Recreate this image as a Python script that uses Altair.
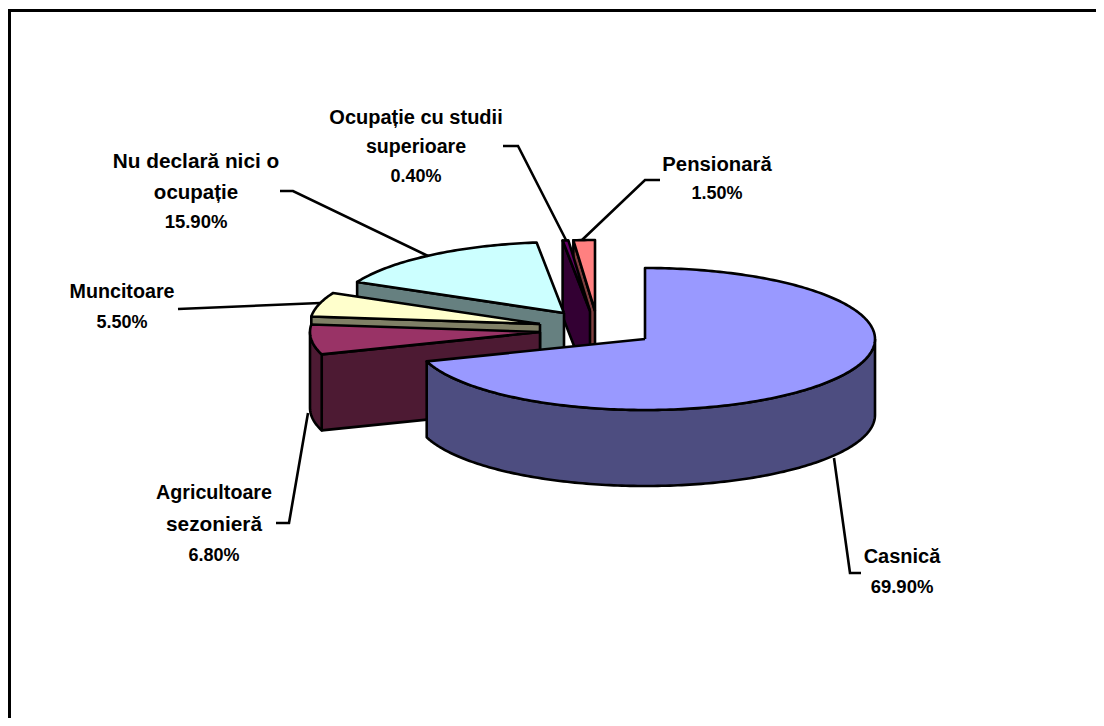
import math
import altair as alt
import pandas as pd

# ---- chart values ----
categories = ["Casnică", "Agricultoare sezonieră", "Muncitoare",
              "Nu declară nici o ocupație", "Ocupație cu studii superioare", "Pensionară"]
values = [69.9, 6.8, 5.5, 15.9, 0.4, 1.5]
top_colors = ["#9999FF", "#993366", "#FFFFCC", "#CCFFFF", "#660066", "#FF8080"]
side_colors = ["#4D4D80", "#4D1A33", "#808066", "#668080", "#330033", "#804040"]
label_lines = [
    ["Casnică", "69.90%"],
    ["Agricultoare", "sezonieră", "6.80%"],
    ["Muncitoare", "5.50%"],
    ["Nu declară nici o", "ocupație", "15.90%"],
    ["Ocupație cu studii", "superioare", "0.40%"],
    ["Pensionară", "1.50%"],
]

# ---- layout (reference pixel coordinates) ----
W, H = 1088, 710
M = 8  # page margin
RX, RY, DEPTH = 230, 71, 76
apex_x = [645, 540, 540, 564, 590, 595]
apex_y = [339, 332, 324, 313, 311, 311]
label_x = [902, 214, 122, 196, 416, 717]
label_y = [[557, 587], [493, 525, 556], [292, 323], [162, 193, 222], [118, 147, 177], [165, 194]]
label_size = [[20, 18.5], [19.7, 20.8, 18], [19.7, 18], [20.8, 20.5, 18.5], [20, 19.6, 18], [20.3, 18]]
leaders = [
    [(834, 458), (850, 573), (861, 573)],
    [(308, 413), (289, 523), (276, 523)],
    [(320, 303), (178, 309)],
    [(428, 256), (293, 191), (280, 191)],
    [(566, 240), (518, 146), (503, 146)],
    [(582, 240), (645, 180), (660, 180)],
]
frame = [[(8, 10.5), (8 + W, 10.5)], [(9, 10), (9, 8 + H)]]

x_scale = alt.Scale(domain=[0, W], nice=False, zero=False)
y_scale = alt.Scale(domain=[H, 0], nice=False, zero=False)


def pt(cx, cy, deg, drop=0):
    a = math.radians(deg)
    return (cx + RX * math.sin(a), cy - RY * math.cos(a) + drop)


def arc(cx, cy, a0, a1, drop=0):
    n = max(2, int(abs(a1 - a0)) + 1)
    return [pt(cx, cy, a0 + (a1 - a0) * k / n, drop) for k in range(n + 1)]


def frame_of(points):
    return pd.DataFrame({"x": [p[0] - M for p in points], "y": [p[1] - M for p in points],
                         "i": list(range(len(points)))})


def poly(points, fill):
    closed = list(points) + [points[0]]
    return alt.Chart(frame_of(closed)).mark_line(fill=fill, stroke="black", strokeWidth=2.6,
                                                 strokeJoin="round", interpolate="linear").encode(
        x=alt.X("x:Q", scale=x_scale, axis=None),
        y=alt.Y("y:Q", scale=y_scale, axis=None),
        order="i:Q",
    )


def line(points, width=2.6):
    return alt.Chart(frame_of(points)).mark_line(stroke="black", strokeWidth=width).encode(
        x=alt.X("x:Q", scale=x_scale, axis=None),
        y=alt.Y("y:Q", scale=y_scale, axis=None),
        order="i:Q",
    )


# angular extents from the values, clockwise from 12 o'clock
total = sum(values)
starts, ends, acc = [], [], 0.0
for v in values:
    starts.append(acc / total * 360)
    acc += v
    ends.append(acc / total * 360)

layers = [line(frame[0], 3), line(frame[1], 4)]

# painter's order: back slices first, the big front slice last
for i in [5, 4, 3, 2, 1, 0]:
    cx, cy, a0, a1 = apex_x[i], apex_y[i], starts[i], ends[i]
    for edge, sign in ((a0, -1), (a1, 1)):
        if sign * math.sin(math.radians(edge)) > 1e-6:
            p = pt(cx, cy, edge)
            layers.append(poly([(cx, cy), p, (p[0], p[1] + DEPTH), (cx, cy + DEPTH)], side_colors[i]))
    w0, w1 = max(a0, 90), min(a1, 270)
    if w1 > w0:
        layers.append(poly(arc(cx, cy, w0, w1) + arc(cx, cy, w1, w0, DEPTH), side_colors[i]))
    layers.append(poly([(cx, cy)] + arc(cx, cy, a0, a1), top_colors[i]))

layers += [line(s) for s in leaders]

rows = []
for i, lines in enumerate(label_lines):
    for t, y, s in zip(lines, label_y[i], label_size[i]):
        rows.append({"t": t, "x": label_x[i] - M, "y": y - M, "s": s})
labels = alt.Chart(pd.DataFrame(rows)).mark_text(
    font="Liberation Sans", fontWeight="bold", align="center", baseline="middle", color="black"
).encode(
    x=alt.X("x:Q", scale=x_scale, axis=None),
    y=alt.Y("y:Q", scale=y_scale, axis=None),
    text="t:N",
    size=alt.Size("s:Q", scale=None, legend=None),
)
layers.append(labels)

chart = alt.layer(*layers).properties(
    width=W, height=H, padding=0, autosize=alt.AutoSizeParams(type="none")
).configure_view(stroke=None)
chart.save("out.html", embed_options={"renderer": "svg", "actions": False})
